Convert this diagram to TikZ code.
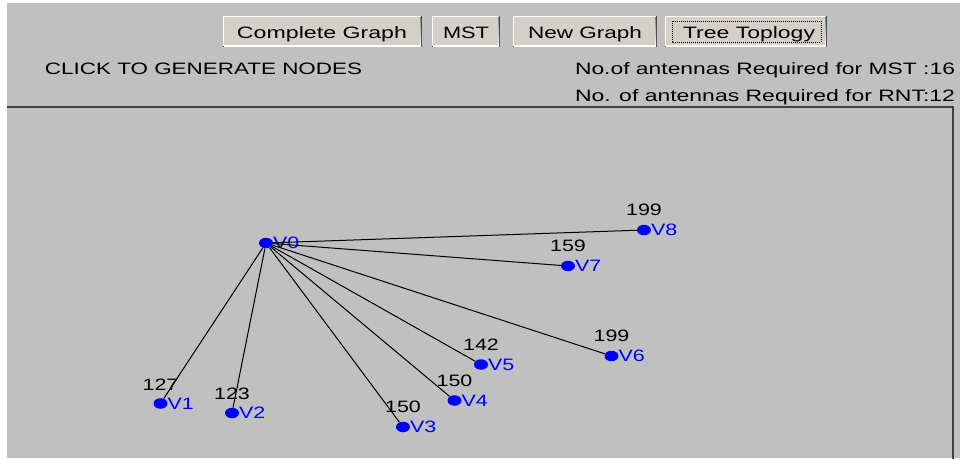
\documentclass[tikz,border=0pt]{standalone}
\usepackage{fontspec}
\setmainfont{Liberation Sans}
\usetikzlibrary{shapes.geometric}
\definecolor{panel}{HTML}{C0C0C0}
\definecolor{face}{HTML}{D4D0C8}
\definecolor{shade}{HTML}{808080}
\definecolor{darkedge}{HTML}{404040}
\definecolor{vblue}{HTML}{0000FF}
% stretch text horizontally to a given width, keeping its height
\newcommand{\wide}[2]{\resizebox{#1pt}{\height}{#2}}
% stretch text horizontally by a fixed factor
\newcommand{\sx}[1]{\scalebox{1.3}[1]{#1}}
% a raised 3D push button from stacked fills: x1, y1, x2, y2
\newcommand{\guibutton}[4]{%
  \fill[darkedge] (#1,#2) rectangle (#3,#4);
  \fill[white] (#1,#2) rectangle (#3-1,#4-1);
  \fill[shade] (#1+1,#2+1) rectangle (#3-1,#4-1);
  \fill[face] (#1+1,#2+1) rectangle (#3-2,#4-2);
}
\tikzset{
  gui/.style={font=\fontsize{16.5}{18}\selectfont, inner sep=0pt, outer sep=0pt},
  vdot/.style={ellipse, fill=vblue, minimum width=14pt, minimum height=10.5pt, inner sep=0pt},
  vname/.style={gui, text=vblue, anchor=west},
  weight/.style={gui, text=black},
  edge/.style={draw=black, line width=1pt},
  frameline/.style={draw=darkedge, line width=1.6pt},
}
\begin{document}
\begin{tikzpicture}[x=1pt, y=-1pt]
\useasboundingbox (0,0) rectangle (960,459);
% window background
\fill[white] (0,0) rectangle (960,459);
\fill[panel] (7,3) rectangle (960,458);

% toolbar buttons
\guibutton{223}{16}{422}{47}
\guibutton{432}{16}{500}{47}
\guibutton{513}{16}{657}{47}
\guibutton{665}{16}{827}{47}
\draw[black, line width=0.8pt, dash pattern=on 1pt off 1pt] (672,21) rectangle (821,42);
\node[gui, anchor=base] (bcomplete) at (322,38) {\wide{170}{Complete Graph}};
\node[gui, anchor=base] (bmst) at (466,38) {\wide{46}{MST}};
\node[gui, anchor=base] (bnew) at (585,38) {\wide{114}{New Graph}};
\node[gui, anchor=base] (btree) at (749,38) {\wide{132}{Tree Toplogy}};

% status texts
\node[gui, anchor=base west] (hint) at (45,74) {\wide{317}{CLICK TO GENERATE NODES}};
\node[gui, anchor=base west] (mstcount) at (575,74.5) {\wide{380}{No.of antennas Required for MST :16}};
\node[gui, anchor=base west] (rntcount) at (575,101) {\wide{380}{No. of antennas Required for RNT:12}};

% drawing area frame
\draw[frameline] (7,107) -- (953,107) -- (953,459);

% vertices
\node[vdot] (v0) at (266,243) {};
\node[vdot] (v1) at (160.5,403.5) {};
\node[vdot] (v2) at (232,413) {};
\node[vdot] (v3) at (403,427) {};
\node[vdot] (v4) at (454.5,400.5) {};
\node[vdot] (v5) at (481,364.5) {};
\node[vdot] (v6) at (611.5,356) {};
\node[vdot] (v7) at (568,266) {};
\node[vdot] (v8) at (644,230) {};

% vertex names
\foreach \i in {0,...,8} {
  \node[vname] (n\i) at ([xshift=7pt]v\i.center) {\sx{V\i}};
}

% tree edges from the root
\foreach \i in {1,...,8} {
  \draw[edge] (v0) -- (v\i);
}

% edge weights above each leaf
\node[weight] (w1) at ([yshift=19pt]v1.center) {\sx{127}};
\node[weight] (w2) at ([yshift=19pt]v2.center) {\sx{123}};
\node[weight] (w3) at ([yshift=20pt]v3.center) {\sx{150}};
\node[weight] (w4) at ([yshift=20pt]v4.center) {\sx{150}};
\node[weight] (w5) at ([yshift=20pt]v5.center) {\sx{142}};
\node[weight] (w6) at ([yshift=20pt]v6.center) {\sx{199}};
\node[weight] (w7) at ([yshift=20pt]v7.center) {\sx{159}};
\node[weight] (w8) at ([yshift=20pt]v8.center) {\sx{199}};
\end{tikzpicture}
\end{document}
